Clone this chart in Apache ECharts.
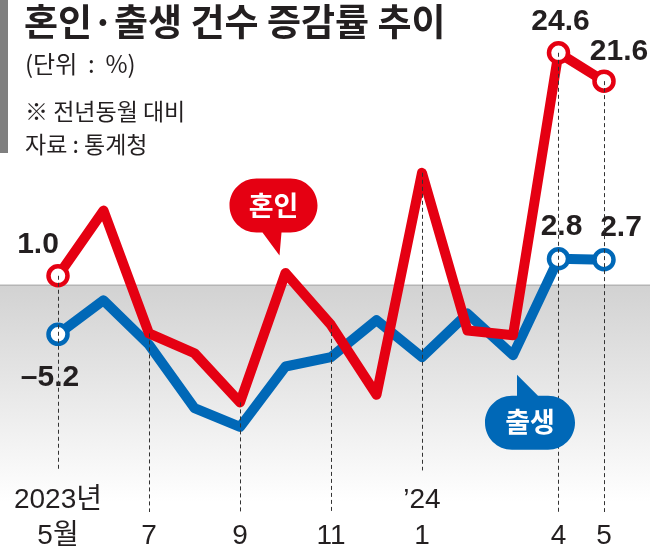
<!DOCTYPE html>
<html>
<head>
<meta charset="utf-8">
<script src="https://cdn.jsdelivr.net/npm/echarts@6/dist/echarts.min.js"></script>
<style>
  html, body { margin: 0; padding: 0; background: #fff; }
  #chart { width: 650px; height: 557px; }
</style>
</head>
<body>
<div id="chart"></div>
<script>
  // 월별 x축 (표시되는 눈금만 shownTicks)
  const months = ['2023년\n5월', '6', '7', '8', '9', '10', '11', '12', '’24\n1', '2', '3', '4', '5'];
  const shownTicks = [0, 2, 4, 6, 8, 11, 12];
  // 전년동월 대비 증감률 (%)
  const marriage = [1.0, 7.9, -5.1, -7.2, -12.4, 1.3, -4.2, -11.6, 11.9, -4.8, -5.3, 24.6, 21.6];
  const births = [-5.2, -1.6, -6.3, -13.0, -15.0, -8.6, -7.6, -3.7, -7.6, -3.0, -7.4, 2.8, 2.7];
  const labelled = [0, 11, 12];

  const RED = '#e50012';
  const BLUE = '#0068b7';
  const INK = '#231f20';
  const NUM_FONT = '"Liberation Sans", "Noto Sans CJK KR", sans-serif';
  const KR_FONT = '"Noto Sans CJK KR", sans-serif';

  const fmt = (v) => (v < 0 ? '–' + Math.abs(v).toFixed(1) : v.toFixed(1));

  // 값 라벨 위치 (점 기준)
  const redOffsets = { 0: [-20, -31], 11: [2, -31], 12: [15, -29] };
  const blueOffsets = { 0: [-8, 43], 11: [3, -32], 12: [17, -32] };

  function buildData(values, offsets) {
    return values.map((v, i) => {
      if (labelled.indexOf(i) < 0) return { value: v, symbol: 'none' };
      return { value: v, label: { show: true, offset: offsets[i] } };
    });
  }

  function lineSeries(name, values, color, offsets, z) {
    return {
      name: name,
      type: 'line',
      z: z,
      silent: true,
      data: buildData(values, offsets),
      symbol: 'circle',
      symbolSize: 19,
      showAllSymbol: true,
      lineStyle: { color: color, width: 10, join: 'round', cap: 'round' },
      itemStyle: { color: '#fff', borderColor: color, borderWidth: 4.5 },
      label: {
        show: false,
        position: 'inside',
        formatter: (p) => fmt(p.value),
        color: INK,
        fontFamily: NUM_FONT,
        fontWeight: 'bold',
        fontSize: 30
      },
      emphasis: { disabled: true }
    };
  }

  const red = lineSeries('혼인', marriage, RED, redOffsets, 4);
  red.markPoint = {
    silent: true,
    symbol: 'path://M27,0 L61,0 C76,0 88,12 88,27 C88,42 76,54 61,54 L52,54 L50,77 L33,54 L27,54 C12,54 0,42 0,27 C0,12 12,0 27,0 Z',
    symbolSize: [88, 77],
    symbolOffset: [-12, -56],
    itemStyle: { color: RED },
    label: {
      show: true, position: 'inside', offset: [0, -11], formatter: '혼인',
      color: '#fff', fontFamily: KR_FONT, fontWeight: 'bold', fontSize: 27
    },
    data: [{ coord: [5, marriage[5]] }]
  };

  const blue = lineSeries('출생', births, BLUE, blueOffsets, 3);
  blue.markPoint = {
    silent: true,
    symbol: 'path://M32,0 L53,21 L63,21 C78,21 90,33 90,48 C90,63 78,75 63,75 L27,75 C12,75 0,63 0,48 C0,33 12,21 27,21 L32,21 Z',
    symbolSize: [90, 75],
    symbolOffset: [17, 57],
    itemStyle: { color: BLUE },
    label: {
      show: true, position: 'inside', offset: [0, 10], formatter: '출생',
      color: '#fff', fontFamily: KR_FONT, fontWeight: 'bold', fontSize: 27
    },
    data: [{ coord: [10, births[10]] }]
  };

  const guides = {
    type: 'line',
    z: 1,
    silent: true,
    data: [],
    markLine: {
      silent: true,
      symbol: ['none', 'none'],
      label: { show: false },
      lineStyle: { type: [4, 3], color: '#333', width: 1 },
      data: shownTicks.map((i) => [
        { coord: [i, Math.max(marriage[i], births[i])] },
        { coord: [i, months[i].indexOf('\n') >= 0 ? -19.6 : -24] }
      ])
    }
  };

  const chart = echarts.init(document.getElementById('chart'));
  const option = {
    animation: false,
    backgroundColor: '#fff',
    grid: { left: 58, right: 46, top: 49, bottom: 45 },
    xAxis: {
      type: 'category',
      boundaryGap: false,
      data: months,
      axisLine: { show: false },
      axisTick: { show: false },
      splitLine: { show: false },
      axisLabel: {
        interval: (idx) => shownTicks.indexOf(idx) >= 0,
        verticalAlign: 'bottom',
        margin: 42,
        color: INK,
        fontFamily: NUM_FONT,
        fontSize: 28,
        lineHeight: 36
      }
    },
    yAxis: {
      type: 'value',
      min: -24,
      max: 25,
      show: false
    },
    series: [guides, blue, red]
  };
  chart.setOption(option);

  // 0선 아래 회색 배경 + 제목 블록
  const zeroY = chart.convertToPixel({ yAxisIndex: 0 }, 0);
  chart.setOption({
    graphic: [
      {
        type: 'rect', z: 0, silent: true,
        shape: { x: 0, y: zeroY, width: 650, height: 557 - zeroY },
        style: {
          fill: new echarts.graphic.LinearGradient(0, 0, 0, 1, [
            { offset: 0, color: '#d2d2d2' },
            { offset: 0.8, color: '#ffffff' }
          ])
        }
      },
      {
        type: 'line', z: 0, silent: true,
        shape: { x1: 0, y1: zeroY, x2: 650, y2: zeroY },
        style: { stroke: '#b5b5b5', lineWidth: 1.5 }
      },
      {
        type: 'rect', z: 0, silent: true,
        shape: { x: 0, y: 0, width: 8, height: 153 },
        style: { fill: '#7f7f7f' }
      },
      {
        type: 'text', z: 5, silent: true,
        style: {
          text: '혼인·출생 건수 증감률 추이', x: 24, y: 22, verticalAlign: 'middle',
          fill: INK, font: 'bold 37px "Noto Sans CJK KR"'
        }
      },
      {
        type: 'text', z: 5, silent: true,
        style: {
          text: '(단위  :  %)', x: 25, y: 64, verticalAlign: 'middle',
          fill: INK, font: '24px "Noto Sans CJK KR"'
        }
      },
      {
        type: 'text', z: 5, silent: true,
        style: {
          text: '※ 전년동월 대비', x: 25, y: 111, verticalAlign: 'middle',
          fill: INK, font: '23px "Noto Sans CJK KR"'
        }
      },
      {
        type: 'text', z: 5, silent: true,
        style: {
          text: '자료 : 통계청', x: 25, y: 144, verticalAlign: 'middle',
          fill: INK, font: '23px "Noto Sans CJK KR"'
        }
      }
    ]
  });

  window.addEventListener('resize', function () {
    chart.resize();
  });
</script>
</body>
</html>
